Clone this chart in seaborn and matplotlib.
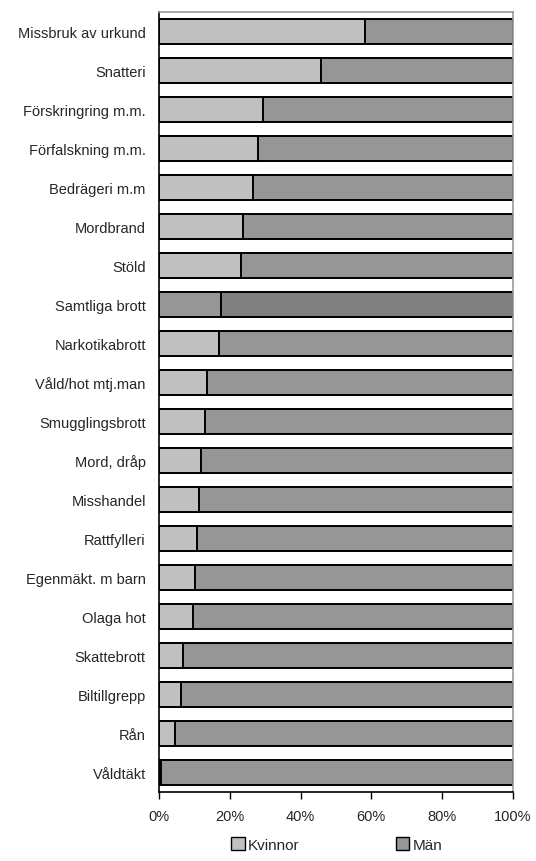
import pandas as pd
import matplotlib
matplotlib.use("Agg")
import matplotlib.pyplot as plt
import seaborn as sns
from matplotlib.patches import Patch
from matplotlib.ticker import PercentFormatter

# --- data (share of women, %) ---
categories = [
    "Missbruk av urkund", "Snatteri", "Förskringring m.m.", "Förfalskning m.m.",
    "Bedrägeri m.m", "Mordbrand", "Stöld", "Samtliga brott", "Narkotikabrott",
    "Våld/hot mtj.man", "Smugglingsbrott", "Mord, dråp", "Misshandel",
    "Rattfylleri", "Egenmäkt. m barn", "Olaga hot", "Skattebrott",
    "Biltillgrepp", "Rån", "Våldtäkt",
]
kvinnor = [58.2, 45.8, 29.5, 28.0, 26.5, 23.7, 23.2, 17.5, 17.0, 13.6,
           13.0, 11.9, 11.3, 10.7, 10.2, 9.6, 6.8, 6.2, 4.5, 0.7]
totals = [100] * len(categories)
highlight = "Samtliga brott"

df = pd.DataFrame({"brott": categories, "Kvinnor": kvinnor, "total": totals})

men_colors = {c: ("#808080" if c == highlight else "#969696") for c in categories}
women_colors = {c: ("#969696" if c == highlight else "#c0c0c0") for c in categories}

sns.set_style("white")
plt.rcParams["font.family"] = ["Liberation Sans", "DejaVu Sans"]

fig = plt.figure(figsize=(5.36, 8.62), dpi=100)
ax = fig.add_axes([0.2966, 0.080, 0.6604, 0.905])

# Män = full bar, Kvinnor drawn on top
sns.barplot(data=df, y="brott", x="total", hue="brott", palette=men_colors,
            orient="h", width=0.64, edgecolor="black", linewidth=1.4,
            legend=False, ax=ax)
sns.barplot(data=df, y="brott", x="Kvinnor", hue="brott", palette=women_colors,
            orient="h", width=0.64, edgecolor="black", linewidth=1.4,
            legend=False, ax=ax)

ax.set_xlim(0, 100)
ax.set_ylim(len(categories) - 0.5, -0.5)
ax.set_xticks([0, 20, 40, 60, 80, 100])
ax.xaxis.set_major_formatter(PercentFormatter(decimals=0))
ax.set_xlabel("")
ax.set_ylabel("")
ax.tick_params(axis="x", bottom=True, length=5, width=1, color="black",
               labelsize=10.5, pad=7)
ax.tick_params(axis="y", left=False, labelsize=10.5, pad=6)

for side in ["left", "bottom"]:
    ax.spines[side].set_color("black")
    ax.spines[side].set_linewidth(1.2)
for side in ["top", "right"]:
    ax.spines[side].set_color("#9a9a9a")
    ax.spines[side].set_linewidth(1.2)

handles = [Patch(facecolor="#c0c0c0", edgecolor="black", label="Kvinnor"),
           Patch(facecolor="#969696", edgecolor="black", label="Män")]
fig.legend(handles=handles, loc="center", bbox_to_anchor=(0.628, 0.019),
           ncol=2, frameon=False, fontsize=11, handlelength=0.9,
           handleheight=0.9, handletextpad=0.2, columnspacing=6.3)

fig.savefig("out.png", dpi=100)
